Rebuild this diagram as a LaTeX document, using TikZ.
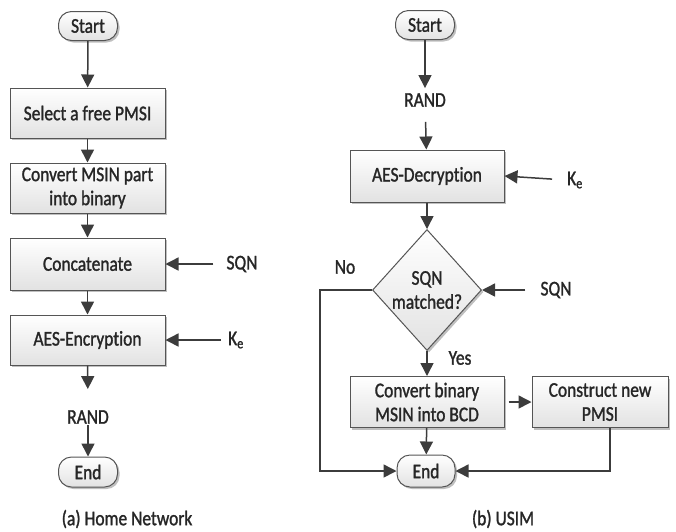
\documentclass[tikz,border=0pt]{standalone}
\usepackage{fontspec}
\setmainfont{Carlito}[FakeStretch=0.83, FakeBold=1.3, Ligatures=NoCommon]
\usetikzlibrary{arrows.meta,shapes.geometric,shadows}

\definecolor{linecol}{HTML}{3C3C3C}
\definecolor{edgecol}{HTML}{555555}
\definecolor{fillbot}{HTML}{E2E2E2}

\tikzset{
  flow/.style={draw=linecol, line width=1.5pt},
  arr/.style={flow, -{Triangle[length=13pt,width=13pt]}},
  boxbase/.style={draw=edgecol, line width=1pt, top color=white, bottom color=fillbot,
    drop shadow={shadow xshift=2pt, shadow yshift=-2pt, opacity=0.25, fill=black},
    align=center, inner sep=1pt, text=black!85},
  procbox/.style={boxbase, rectangle, minimum width=155pt, minimum height=50pt},
  term/.style={boxbase, rectangle, rounded corners=13pt, minimum width=59pt, minimum height=29pt},
  decision/.style={boxbase, diamond, inner sep=0pt, minimum width=109pt, minimum height=121pt},
  lbl/.style={inner sep=1pt, align=center, text=black!85},
}

\begin{document}
\begin{tikzpicture}[x=1pt, y=-1pt, font=\fontsize{21}{24}\selectfont]
\useasboundingbox (0,0) rectangle (676,531);

% ---------- (a) Home Network ----------
\node[term]    (start1) at (88,26)    {Start};
\node[procbox] (sel)    at (87.5,113) {Select a free PMSI};
\node[procbox] (conv)   at (87.5,188) {Convert MSIN part\\into binary};
\node[procbox, minimum height=52pt] (cat) at (87.5,264) {Concatenate};
\node[procbox] (enc)    at (87.5,340) {AES-Encryption};
\node[lbl]     (rand1)  at (88,417)   {RAND};
\node[term, minimum height=30pt] (end1) at (88,472) {End};

\node[lbl] (sqn1) at (242,264) {SQN};
\node[lbl] (ke1)  at (236,340) {K\textsubscript{e}};

\draw[arr] (start1) -- (sel);
\draw[arr] (sel) -- (conv);
\draw[arr] (conv) -- (cat);
\draw[arr] (cat) -- (enc);
\draw[arr, shorten >=20pt] (enc) -- (rand1);
\draw[arr] (rand1) -- (end1);
\draw[arr, shorten <=12pt] (sqn1.west) -- (cat.east);
\draw[arr, shorten <=6pt] (ke1.west) -- (enc.east);

\node[lbl] (capa) at (127,519) {(a) Home Network};

% ---------- (b) USIM ----------
\node[term]    (start2) at (425,25)  {Start};
\node[lbl]     (rand2)  at (425,100) {RAND};
\node[procbox, minimum width=154pt, minimum height=52pt] (dec) at (427,176) {AES-Decryption};
\node[decision] (chk)   at (427,290) {SQN\\matched?};
\node[procbox, minimum width=154pt, minimum height=51pt] (bcd) at (427,402) {Convert binary\\MSIN into BCD};
\node[procbox, minimum width=136pt, minimum height=51pt] (pmsi) at (600,402) {Construct new\\PMSI};
\node[term, minimum width=58pt, minimum height=32pt] (end2) at (426,471) {End};

\node[lbl] (ke2)  at (575,180) {K\textsubscript{e}};
\node[lbl] (sqn2) at (556,290) {SQN};
\node[lbl] (no)   at (345,267) {No};
\node[lbl] (yes)  at (460,358) {Yes};

\coordinate (nocorner) at (320,290);
\coordinate (pmsicorner) at (610,471);

\draw[arr, shorten >=4pt] (start2) -- (rand2);
\draw[arr, shorten <=14pt] (rand2) -- (dec);
\draw[arr] (dec) -- (chk);
\draw[arr, shorten <=14pt] (ke2.west) -- (dec.east);
\draw[arr, shorten <=14pt] (sqn2.west) -- (chk.east);
\draw[arr] (chk) -- (bcd);
\draw[arr, shorten <=4pt] (bcd) -- (pmsi);
\draw[arr] (bcd) -- (end2);
\draw[arr] (chk.west) -- (nocorner) |- (end2.west);
\draw[arr] (pmsi.south -| pmsicorner) -- (pmsicorner) -- (end2.east);

\node[lbl] (capb) at (503,519) {(b) USIM};
\end{tikzpicture}
\end{document}
